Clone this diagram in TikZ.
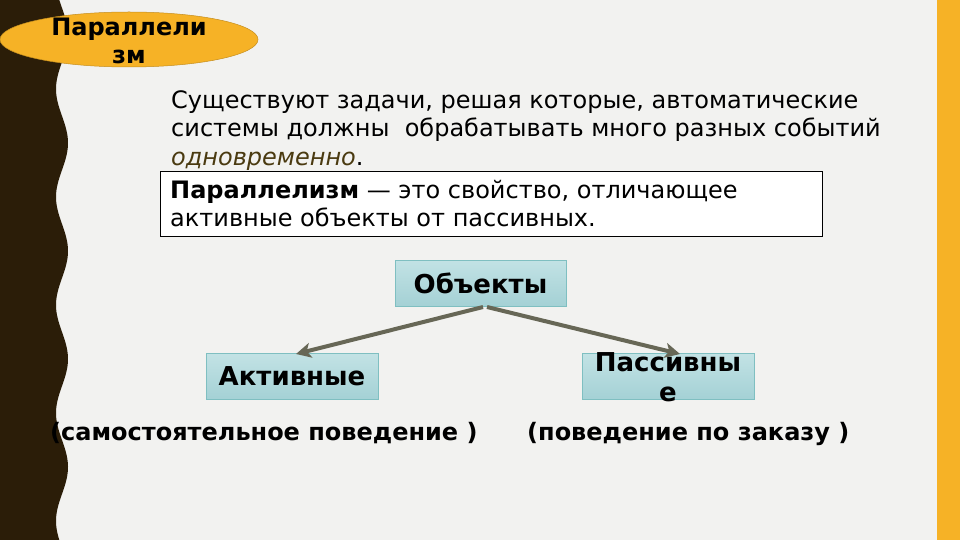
\documentclass[tikz,border=0pt]{standalone}
\usepackage{fontspec}
\setmainfont{DejaVu Sans}
\usetikzlibrary{arrows.meta,shapes.geometric}
\definecolor{bgc}{HTML}{F2F2F0}
\definecolor{darkband}{HTML}{2B1D08}
\definecolor{orangec}{HTML}{F6B226}
\definecolor{boxfill}{HTML}{B3DBDE}
\definecolor{boxfillb}{HTML}{A4D1D5}
\definecolor{boxline}{HTML}{7FBFC1}
\definecolor{arrowc}{HTML}{676756}
\definecolor{italc}{HTML}{4A3A10}
\tikzset{
  catbox/.style={draw=boxline, line width=0.8pt, top color=boxfill!80!white, bottom color=boxfillb, minimum height=46pt, inner sep=0pt, font=\fontsize{26}{30}\selectfont\bfseries, align=center},
  cattxt/.style={anchor=base, inner sep=0pt, font=\fontsize{26}{30}\selectfont\bfseries},
  conn/.style={draw=arrowc, line width=4pt, -{Stealth[length=15pt,width=15pt,inset=4pt]}},
  bodytext/.style={anchor=base west, inner sep=0pt, font=\fontsize{24}{28}\selectfont},
  lbl/.style={anchor=base west, inner sep=0pt, font=\fontsize{24}{28}\selectfont\bfseries},
  titletxt/.style={anchor=base, inner sep=0pt, font=\fontsize{24}{28}\selectfont\bfseries}
}
\begin{document}
\begin{tikzpicture}[x=1pt,y=-1pt]
\useasboundingbox (0,0) rectangle (960,540);
\fill[bgc] (0,0) rectangle (960,540);
\fill[darkband] (0,0) -- plot[domain=0:540, samples=200] ({62+6*cos((\x-143)/108*360)}, \x) -- (0,540) -- cycle;
\fill[orangec] (937,0) rectangle (960,540);
% title ellipse
\node (title) [ellipse, draw=orangec!80!black, line width=0.5pt, fill=orangec, minimum width=258pt, minimum height=55pt, inner sep=0pt] at (129,39.5) {};
\node (t1) [titletxt] at (129,36) {Параллели};
\node (t2) [titletxt] at (129,64) {зм};
% body text
\node (l1) [bodytext] at (171,109) {Существуют задачи, решая которые, автоматические};
\node (l2) [bodytext] at (171,137) {системы должны\ \ обрабатывать много разных событий};
\node (l3) [bodytext] at (171,165) {\textcolor{italc}{\itshape одновременно}.};
% definition box
\node (defbox) [draw=black, fill=white, line width=0.8pt, minimum width=662pt, minimum height=65pt, inner sep=0pt] at (491,203.5) {};
\node (d1) [bodytext] at (170,198) {\textbf{Параллелизм} — это свойство, отличающее};
\node (d2) [bodytext] at (170,226) {активные объекты от пассивных.};
% category boxes
\node (obj) [catbox, minimum width=171pt] at (480.5,283) {Объекты};
\node (act) [catbox, minimum width=172pt] at (292,376.5) {Активные};
\node (pas) [catbox, minimum width=172pt] at (668,376.5) {};
\node (pas1) [cattxt] at (668,371) {Пассивны};
\node (pas2) [cattxt] at (668,401) {е};
\coordinate (oa) at (483,307);
\coordinate (ob) at (487,307);
\coordinate (ta) at (296,354);
\coordinate (tb) at (680,354);
\draw[conn] (oa) -- (ta);
\draw[conn] (ob) -- (tb);
% bottom labels
\node (la) [lbl] at (50,440) {(самостоятельное поведение )};
\node (lb) [lbl] at (527,440) {(поведение по заказу )};
\end{tikzpicture}
\end{document}
